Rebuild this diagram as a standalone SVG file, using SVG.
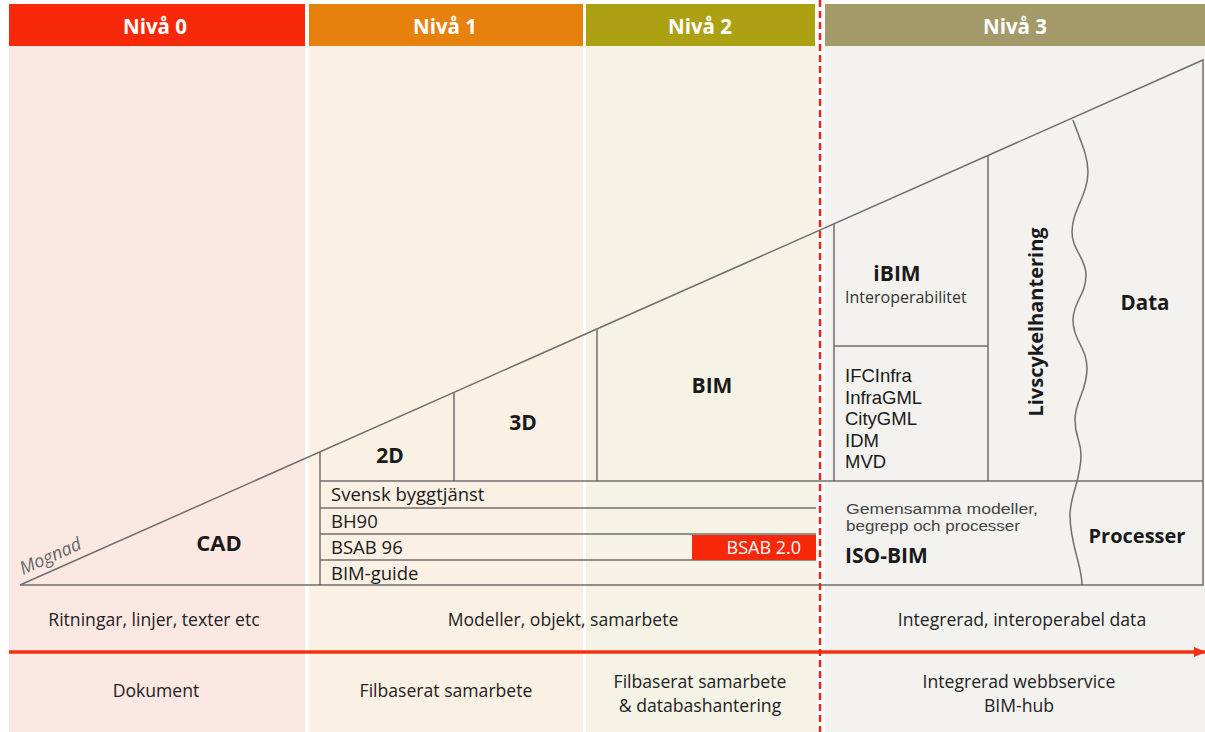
<svg xmlns="http://www.w3.org/2000/svg" width="1205" height="732" viewBox="0 0 1205 732">
<defs>
<style>
text{font-family:"Open Sans","Liberation Sans",sans-serif;fill:#1a1a1a}
.hd{font-weight:bold;font-size:20.5px;fill:#fff;text-anchor:middle}
.b{font-weight:bold;text-anchor:middle}
.r{font-size:18.5px}
.g{font-family:"Liberation Sans",Arial,sans-serif;font-size:18.5px}
.gm{font-family:"Liberation Sans",Arial,sans-serif;font-size:14px;fill:#444}
.bt{font-size:17.6px;text-anchor:middle;fill:#222}
.ln{stroke:#6e6e6e;stroke-width:1.5;fill:none}
</style>
<marker id="ah" markerWidth="12" markerHeight="12" refX="11" refY="6" orient="auto" markerUnits="userSpaceOnUse"><path d="M0,1 L12,6 L0,11 Z" fill="#f0320f"/></marker>
</defs>
<rect width="1205" height="732" fill="#ffffff"/>
<g id="backgrounds">
<rect x="9" y="46" width="296" height="686" fill="#fce8e3"/>
<rect x="309" y="46" width="274" height="686" fill="#fbf0e4"/>
<rect x="586" y="46" width="231" height="686" fill="#f4f3e6"/>
<rect x="825" y="46" width="380" height="686" fill="#f3f2ee"/>
</g>
<g id="headers">
<g id="h0"><rect x="9" y="4" width="296" height="42" fill="#f7290a"/><text class="hd" x="155" y="34">Nivå 0</text></g>
<g id="h1"><rect x="309" y="4" width="274" height="42" fill="#e6810e"/><text class="hd" x="445" y="34">Nivå 1</text></g>
<g id="h2"><rect x="586" y="4" width="229" height="42" fill="#aba113"/><text class="hd" x="700" y="34">Nivå 2</text></g>
<g id="h3"><rect x="825" y="4" width="380" height="42" fill="#a49a69"/><text class="hd" x="1015" y="34">Nivå 3</text></g>
</g>
<g id="connectors">
<path class="ln" d="M20,585 L1203,60 L1203,585 Z"/>
<line class="ln" x1="320" y1="452" x2="320" y2="585"/>
<line class="ln" x1="454" y1="392" x2="454" y2="481"/>
<line class="ln" x1="597" y1="329" x2="597" y2="481"/>
<line class="ln" x1="834" y1="224" x2="834" y2="481"/>
<line class="ln" x1="834" y1="346" x2="988" y2="346"/>
<line class="ln" x1="988" y1="155" x2="988" y2="481"/>
<line class="ln" x1="320" y1="481" x2="1203" y2="481"/>
<line class="ln" x1="320" y1="508" x2="816" y2="508"/>
<line class="ln" x1="320" y1="534" x2="816" y2="534"/>
<line class="ln" x1="320" y1="560" x2="816" y2="560"/>
<path class="ln" d="M1073,120 C1080,140 1088,155 1088,172 C1088,195 1072,210 1072,232 C1072,250 1086,258 1086,275 C1086,295 1073,302 1073,320 C1073,340 1087,348 1087,368 C1087,392 1075,400 1075,420 C1075,438 1081,440 1081,455 C1081,480 1070,495 1070,515 C1070,545 1082,565 1082,585"/>
<line x1="9" y1="652" x2="1205" y2="652" stroke="#f0320f" stroke-width="3.5" marker-end="url(#ah)"/>
<line x1="820" y1="0" x2="820" y2="732" stroke="#e8261a" stroke-width="2.5" stroke-dasharray="7,4"/>
</g>
<g id="bsab20"><rect x="692" y="535" width="124" height="25" fill="#f7290a"/><text x="801" y="554" font-size="18" text-anchor="end" style="fill:#fff">BSAB 2.0</text></g>
<g id="labels">
<text x="23" y="575" font-size="18" font-style="italic" style="fill:#666" transform="rotate(-24 23 575)">Mognad</text>
<text class="b" x="219" y="551" font-size="22">CAD</text>
<text class="b" x="390" y="463" font-size="21">2D</text>
<text class="b" x="523" y="430" font-size="21">3D</text>
<text class="b" x="712" y="393" font-size="21">BIM</text>
<text class="b" x="897" y="281" font-size="21">iBIM</text>
<text x="845" y="303" font-size="16" style="fill:#333">Interoperabilitet</text>
<text class="g" x="845" y="382">IFCInfra<tspan x="845" dy="21.5">InfraGML</tspan><tspan x="845" dy="21.5">CityGML</tspan><tspan x="845" dy="21.5">IDM</tspan><tspan x="845" dy="21.5">MVD</tspan></text>
<text class="b" x="0" y="0" font-size="20" transform="translate(1043,322) rotate(-90)">Livscykelhantering</text>
<text class="b" x="1145" y="310" font-size="20.5">Data</text>
<text class="gm" x="846" y="514" textLength="192" lengthAdjust="spacingAndGlyphs">Gemensamma  modeller,</text>
<text class="gm" x="846" y="530.5" textLength="174" lengthAdjust="spacingAndGlyphs">begrepp och processer</text>
<text x="845" y="563" font-size="21" font-weight="bold">ISO-BIM</text>
<text class="b" x="1137" y="543" font-size="20">Processer</text>
<text class="r" x="331" y="501">Svensk byggtjänst</text>
<text class="r" x="331" y="528">BH90</text>
<text class="r" x="331" y="554">BSAB 96</text>
<text class="r" x="331" y="580">BIM-guide</text>
</g>
<g id="bottom">
<text class="bt" x="154" y="626">Ritningar, linjer, texter etc</text>
<text class="bt" x="563" y="626">Modeller, objekt, samarbete</text>
<text class="bt" x="1022" y="626">Integrerad, interoperabel data</text>
<text class="bt" x="156" y="697">Dokument</text>
<text class="bt" x="446" y="697">Filbaserat samarbete</text>
<text class="bt" x="700" y="688">Filbaserat samarbete<tspan x="700" dy="24">&amp; databashantering</tspan></text>
<text class="bt" x="1019" y="688">Integrerad webbservice<tspan x="1019" dy="24">BIM-hub</tspan></text>
</g>
</svg>
